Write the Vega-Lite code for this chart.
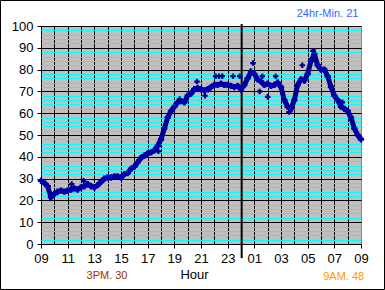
{
  "$schema": "https://vega.github.io/schema/vega-lite/v6.json",
  "width": 320,
  "height": 218,
  "autosize": {"type": "none"},
  "padding": {"left": 41, "top": 26, "right": 24, "bottom": 46},
  "background": "white",
  "config": {
    "view": {"fill": "#C0C0C0", "stroke": "#808080", "strokeWidth": 1},
    "font": "Liberation Sans"
  },
  "datasets": {
    "series": [
      {"h": 0.00, "v": 29}, {"h": 0.25, "v": 28}, {"h": 0.50, "v": 26.5}, {"h": 0.75, "v": 21.5},
      {"h": 1.00, "v": 23}, {"h": 1.25, "v": 24}, {"h": 1.50, "v": 24.5}, {"h": 1.75, "v": 24},
      {"h": 2.00, "v": 24.5}, {"h": 2.25, "v": 25}, {"h": 2.50, "v": 25.5}, {"h": 2.75, "v": 25},
      {"h": 3.00, "v": 26}, {"h": 3.25, "v": 26.5}, {"h": 3.50, "v": 27.5}, {"h": 3.75, "v": 26.5},
      {"h": 4.00, "v": 26}, {"h": 4.25, "v": 27}, {"h": 4.50, "v": 28.5}, {"h": 4.75, "v": 30},
      {"h": 5.00, "v": 30.5}, {"h": 5.25, "v": 30.5}, {"h": 5.50, "v": 31}, {"h": 5.75, "v": 31},
      {"h": 6.00, "v": 30.5}, {"h": 6.25, "v": 32}, {"h": 6.50, "v": 32.5}, {"h": 6.75, "v": 34.5},
      {"h": 7.00, "v": 35.5}, {"h": 7.25, "v": 37.5}, {"h": 7.50, "v": 39.5}, {"h": 7.75, "v": 40.5},
      {"h": 8.00, "v": 41.5}, {"h": 8.25, "v": 42}, {"h": 8.50, "v": 43}, {"h": 8.75, "v": 45},
      {"h": 9.00, "v": 48}, {"h": 9.25, "v": 53}, {"h": 9.50, "v": 58}, {"h": 9.75, "v": 61},
      {"h": 10.00, "v": 63}, {"h": 10.25, "v": 65}, {"h": 10.50, "v": 65.5}, {"h": 10.75, "v": 65},
      {"h": 11.00, "v": 68}, {"h": 11.25, "v": 69}, {"h": 11.50, "v": 71}, {"h": 11.75, "v": 71.5},
      {"h": 12.00, "v": 71}, {"h": 12.25, "v": 70.5}, {"h": 12.50, "v": 71}, {"h": 12.75, "v": 72},
      {"h": 13.00, "v": 73}, {"h": 13.25, "v": 73}, {"h": 13.50, "v": 73.5}, {"h": 13.75, "v": 73},
      {"h": 14.00, "v": 73}, {"h": 14.25, "v": 72.5}, {"h": 14.50, "v": 72}, {"h": 14.75, "v": 72.5},
      {"h": 15.00, "v": 71}, {"h": 15.25, "v": 73}, {"h": 15.50, "v": 76}, {"h": 15.75, "v": 79},
      {"h": 16.00, "v": 78}, {"h": 16.25, "v": 75.5}, {"h": 16.50, "v": 74.5}, {"h": 16.75, "v": 73},
      {"h": 17.00, "v": 73.5}, {"h": 17.25, "v": 72.5}, {"h": 17.50, "v": 73}, {"h": 17.75, "v": 74},
      {"h": 18.00, "v": 72}, {"h": 18.25, "v": 66}, {"h": 18.50, "v": 63}, {"h": 18.75, "v": 62},
      {"h": 19.00, "v": 66}, {"h": 19.25, "v": 73}, {"h": 19.50, "v": 75.5}, {"h": 19.75, "v": 75},
      {"h": 20.00, "v": 78}, {"h": 20.25, "v": 84}, {"h": 20.50, "v": 87}, {"h": 20.75, "v": 82},
      {"h": 21.00, "v": 80}, {"h": 21.25, "v": 80}, {"h": 21.50, "v": 77}, {"h": 21.75, "v": 72},
      {"h": 22.00, "v": 68}, {"h": 22.25, "v": 66}, {"h": 22.50, "v": 63}, {"h": 22.75, "v": 62},
      {"h": 23.00, "v": 61}, {"h": 23.25, "v": 58}, {"h": 23.50, "v": 53}, {"h": 23.75, "v": 50},
      {"h": 24.00, "v": 48}
    ],
    "extra": [
      {"h": 10.4, "v": 66.5}, {"h": 11.7, "v": 74.5}, {"h": 13.1, "v": 77}, {"h": 13.35, "v": 77},
      {"h": 13.6, "v": 77}, {"h": 14.4, "v": 77}, {"h": 14.9, "v": 77}, {"h": 15.9, "v": 83},
      {"h": 16.4, "v": 70}, {"h": 16.6, "v": 77}, {"h": 17.0, "v": 67.5}, {"h": 17.6, "v": 77},
      {"h": 19.6, "v": 82}, {"h": 20.4, "v": 88.6}, {"h": 22.6, "v": 65}, {"h": 3.2, "v": 29},
      {"h": 2.3, "v": 27.5}, {"h": 8.8, "v": 42.5}, {"h": 12.3, "v": 68}, {"h": 18.6, "v": 60.5}
    ],
    "frame": [{"h": -3.0375, "h2": 25.7625, "v": 111.7, "v2": -20.87}],
    "midnight": [{"h": 15.05, "v": 100.9, "v2": -6.5}],
    "notes": [
      {"h": 21.49, "v": 105.5, "label": "24hr-Min. 21", "c": "#3366FF"},
      {"h": 4.95, "v": -14.7, "label": "3PM. 30", "c": "#993300"},
      {"h": 22.7, "v": -15.2, "label": "9AM. 48", "c": "#FF9900"}
    ]
  },
  "encoding": {
    "x": {
      "field": "h", "type": "quantitative",
      "scale": {"domain": [0, 24], "nice": false, "zero": false},
      "axis": {
        "values": [0,1,2,3,4,5,6,7,8,9,10,11,12,13,14,15,16,17,18,19,20,21,22,23,24],
        "labelExpr": "datum.value % 2 === 0 ? ((9 + datum.value) % 24 < 10 ? '0' : '') + ((9 + datum.value) % 24) : ''",
        "labelOverlap": false, "labelFlush": false,
        "labelFont": "Liberation Sans", "labelFontSize": 13, "labelColor": "black", "labelPadding": 4,
        "domain": false,
        "grid": true, "gridColor": "black", "gridWidth": 1,
        "gridOpacity": {"condition": {"test": "datum.value < 24", "value": 1}, "value": 0},
        "ticks": true, "tickSize": 4, "tickColor": "black",
        "tickOpacity": {"condition": {"test": "datum.value % 2 === 0", "value": 1}, "value": 0},
        "title": "Hour", "titleFont": "Liberation Sans", "titleFontSize": 13, "titleFontWeight": "normal",
        "titleColor": "black", "titlePadding": 3, "titleX": 153
      }
    },
    "y": {
      "field": "v", "type": "quantitative",
      "scale": {"domain": [0, 100], "nice": false, "zero": false},
      "axis": {
        "values": [0,2,4,6,8,10,12,14,16,18,20,22,24,26,28,30,32,34,36,38,40,42,44,46,48,50,52,54,56,58,60,62,64,66,68,70,72,74,76,78,80,82,84,86,88,90,92,94,96,98,100],
        "labelExpr": "datum.value % 10 === 0 ? datum.label : ''",
        "labelOverlap": false, "labelFlush": false,
        "labelFont": "Liberation Sans", "labelFontSize": 13, "labelColor": "black", "labelPadding": 4,
        "domain": false,
        "grid": true,
        "gridColor": {"condition": {"test": "datum.value % 10 === 0", "value": "black"}, "value": "#00FFFF"},
        "gridWidth": 1,
        "ticks": true, "tickSize": 4, "tickColor": "black",
        "tickOpacity": {"condition": {"test": "datum.value % 10 === 0", "value": 1}, "value": 0},
        "title": null
      }
    }
  },
  "layer": [
    {
      "data": {"name": "frame"},
      "mark": {"type": "rect", "fill": null, "fillOpacity": 0, "stroke": "black", "strokeWidth": 1, "clip": false},
      "encoding": {"x2": {"field": "h2"}, "y2": {"field": "v2"}}
    },
    {
      "data": {"name": "midnight"},
      "mark": {"type": "rule", "color": "black", "strokeWidth": 2, "clip": false},
      "encoding": {"y2": {"field": "v2"}}
    },
    {
      "data": {"name": "series"},
      "mark": {"type": "line", "color": "#000080", "strokeWidth": 5}
    },
    {
      "data": {"name": "series"},
      "mark": {"type": "point", "shape": "cross", "filled": true, "color": "#0000B0", "size": 40, "opacity": 1}
    },
    {
      "data": {"name": "extra"},
      "mark": {"type": "point", "shape": "cross", "filled": true, "color": "#000090", "size": 30, "opacity": 1}
    },
    {
      "data": {"name": "notes"},
      "mark": {"type": "text", "font": "Liberation Sans", "fontSize": 11, "align": "center", "baseline": "middle", "clip": false},
      "encoding": {"text": {"field": "label"}, "color": {"field": "c", "type": "nominal", "scale": null}}
    }
  ]
}
